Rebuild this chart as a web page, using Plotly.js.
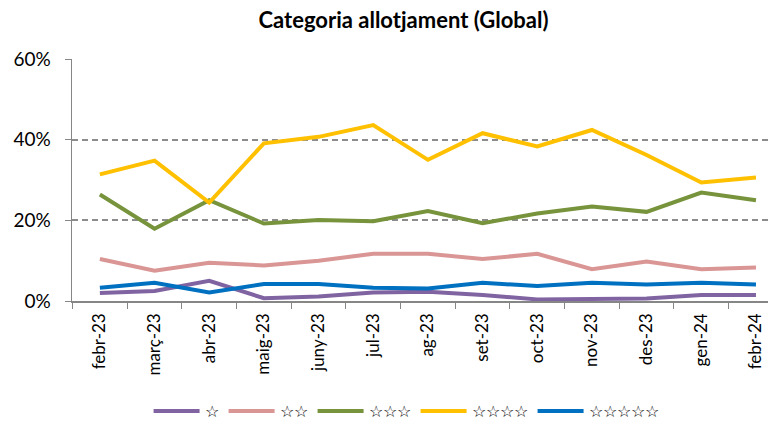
<!DOCTYPE html>
<html><head><meta charset="utf-8">
<script src="https://cdn.plot.ly/plotly-3.0.1.min.js"></script>
<style>html,body{margin:0;padding:0;background:#fff}#c{width:773px;height:421px}</style>
</head><body><div id="c"></div>
<script>
const months = ["febr-23","març-23","abr-23","maig-23","juny-23","jul-23","ag-23","set-23","oct-23","nov-23","des-23","gen-24","febr-24"];
const seriesNames = ["☆","☆☆","☆☆☆","☆☆☆☆","☆☆☆☆☆"];
const star1 = [2.0,2.5,5.0,0.7,1.1,2.1,2.3,1.5,0.4,0.6,0.6,1.5,1.5];
const star2 = [10.4,7.5,9.5,8.8,10.0,11.7,11.7,10.4,11.7,7.9,9.8,7.9,8.3];
const star3 = [26.4,17.9,25.0,19.2,20.1,19.8,22.3,19.3,21.7,23.4,22.1,26.9,25.0];
const star4 = [31.4,34.8,24.4,39.1,40.7,43.6,35.0,41.6,38.3,42.4,36.2,29.4,30.6];
const star5 = [3.3,4.5,2.1,4.2,4.2,3.3,3.1,4.5,3.7,4.5,4.1,4.5,4.1];
const colors = ["#8064A2","#D99694","#77933C","#FFC000","#0070C0"];
const all = [star1,star2,star3,star4,star5];
const traces = all.map((v,i)=>({
  x: months, y: v.map(d=>d/100), type:"scatter", mode:"lines", name: seriesNames[i],
  line:{color:colors[i], width:4}
}));
const font = "Lato, 'Open Sans', sans-serif";
Plotly.newPlot("c", traces, {
  width:773, height:421,
  margin:{l:72, r:5, t:59, b:120, autoexpand:false},
  paper_bgcolor:"#fff", plot_bgcolor:"#fff",
  font:{family:font, color:"#000"},
  title:{text:"<b>Categoria allotjament (Global)</b>", font:{size:22, family:font}, x:0.522, xanchor:"center", y:0.952, yanchor:"middle"},
  xaxis:{type:"category", range:[-0.51,12.22], tickangle:-90, tickson:"boundaries", ticks:"outside", ticklen:6, tickcolor:"#868686",
    showline:true, linecolor:"#868686", linewidth:1.5, showgrid:false, tickfont:{size:17}, ticklabelstandoff:4, automargin:false, fixedrange:true},
  yaxis:{range:[0,0.6], dtick:0.2, tickformat:".0%", ticks:"outside", ticklen:6, tickcolor:"#868686",
    showline:true, linecolor:"#868686", linewidth:1.5, showgrid:true, gridcolor:"#8c8c8c", griddash:"6px,4px", gridwidth:2,
    zeroline:false, tickfont:{size:19}, ticklabelstandoff:10, automargin:false, fixedrange:true},
  showlegend:true,
  legend:{orientation:"h", x:0.48, xanchor:"center", y:-0.385, yanchor:"top", font:{size:16}, traceorder:"normal", itemwidth:46}
}, {displayModeBar:false, staticPlot:true});
</script></body></html>
